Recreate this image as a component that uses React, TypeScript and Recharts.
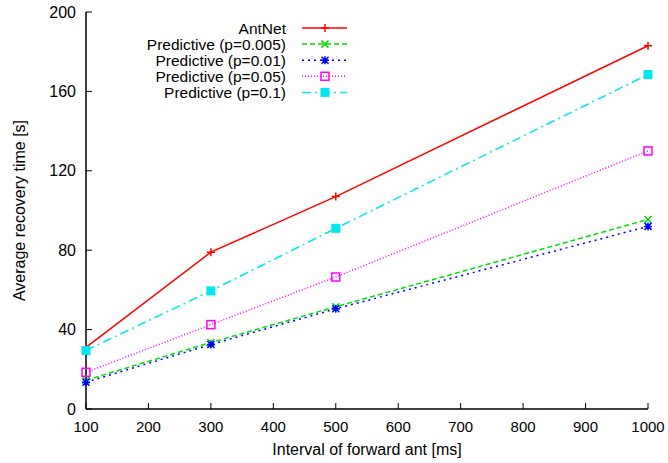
import { Legend, Line, LineChart, XAxis, YAxis } from "recharts";

const intervals = [100, 300, 500, 1000];
const antNet = [31, 79, 107, 183];
const predictive0005 = [14.5, 33.5, 51.5, 95.5];
const predictive001 = [13.5, 32.5, 50.5, 92];
const predictive005 = [18.5, 42.5, 66.5, 130];
const predictive01 = [29.5, 59.5, 91, 168.5];

const xTicks = [100, 200, 300, 400, 500, 600, 700, 800, 900, 1000];
const yTicks = [0, 40, 80, 120, 160, 200];

const FONT = '"Liberation Sans", Arial, sans-serif';

type MarkerKind = "plus" | "cross" | "star" | "box" | "boxFill";

const series: {
  key: string;
  name: string;
  color: string;
  dash?: string;
  marker: MarkerKind;
}[] = [
  { key: "antNet", name: "AntNet", color: "#ff0000", marker: "plus" },
  { key: "p0005", name: "Predictive (p=0.005)", color: "#00dd00", dash: "5 3", marker: "cross" },
  { key: "p001", name: "Predictive (p=0.01)", color: "#0000ff", dash: "2 4", marker: "star" },
  { key: "p005", name: "Predictive (p=0.05)", color: "#ff00ff", dash: "1 2", marker: "box" },
  { key: "p01", name: "Predictive (p=0.1)", color: "#00e8ee", dash: "9 4 2 4", marker: "boxFill" },
];

const data = intervals.map((x, i) => ({
  x,
  antNet: antNet[i],
  p0005: predictive0005[i],
  p001: predictive001[i],
  p005: predictive005[i],
  p01: predictive01[i],
}));

const Marker = ({ kind, cx, cy, color }: { kind: MarkerKind; cx: number; cy: number; color: string }) => {
  const s = 4;
  const d = 3.5;
  if (kind === "plus")
    return (
      <path d={`M${cx - s},${cy}H${cx + s}M${cx},${cy - s}V${cy + s}`} stroke={color} strokeWidth={1.5} fill="none" />
    );
  if (kind === "cross")
    return (
      <path
        d={`M${cx - d},${cy - d}L${cx + d},${cy + d}M${cx - d},${cy + d}L${cx + d},${cy - d}`}
        stroke={color}
        strokeWidth={1.5}
        fill="none"
      />
    );
  if (kind === "star")
    return (
      <path
        d={`M${cx - s},${cy}H${cx + s}M${cx},${cy - s}V${cy + s}M${cx - d},${cy - d}L${cx + d},${cy + d}M${cx - d},${cy + d}L${cx + d},${cy - d}`}
        stroke={color}
        strokeWidth={1.5}
        fill="none"
      />
    );
  if (kind === "box")
    return <rect x={cx - 4} y={cy - 4} width={8} height={8} stroke={color} strokeWidth={1.5} fill="none" />;
  return <rect x={cx - 4.5} y={cy - 4.5} width={9} height={9} fill={color} />;
};

// gnuplot-style ticks: marks point into the plot, labels outside
const BottomTick = (props: any) => {
  const { x, y, payload } = props;
  return (
    <g>
      <line x1={x} x2={x} y1={y - 12} y2={y - 18} stroke="#000" strokeWidth={1} />
      <text x={x} y={y} dy="0.71em" textAnchor="middle" fontSize={15} fontFamily={FONT} fill="#000">
        {payload.value}
      </text>
    </g>
  );
};

const LeftTick = (props: any) => {
  const { x, y, payload } = props;
  return (
    <g>
      <line x1={x + 10} x2={x + 16} y1={y} y2={y} stroke="#000" strokeWidth={1} />
      <text x={x} y={y} dy="0.355em" textAnchor="end" fontSize={16} fontFamily={FONT} fill="#000">
        {payload.value}
      </text>
    </g>
  );
};

const TopTick = (props: any) => {
  const { x, y } = props;
  return <line x1={x} x2={x} y1={y} y2={y + 6} stroke="#000" strokeWidth={1} />;
};

const RightTick = (props: any) => {
  const { x, y } = props;
  return <line x1={x} x2={x - 6} y1={y} y2={y} stroke="#000" strokeWidth={1} />;
};

const LegendBox = () => (
  <svg width={230} height={86} style={{ display: "block" }}>
    {series.map((s, i) => {
      const y = 10 + i * 16.1;
      return (
        <g key={s.key}>
          <text x={156} y={y} dy="0.355em" textAnchor="end" fontSize={15.5} fontFamily={FONT} fill="#000">
            {s.name}
          </text>
          <line x1={172} x2={217} y1={y} y2={y} stroke={s.color} strokeWidth={1.5} strokeDasharray={s.dash} />
          <Marker kind={s.marker} cx={195} cy={y} color={s.color} />
        </g>
      );
    })}
  </svg>
);

export default function App() {
  return (
    <div style={{ position: "absolute", left: 0, top: 0, background: "#fff" }}>
      <LineChart
        width={668}
        height={463}
        data={data}
        margin={{ top: 12, right: 20, bottom: 0, left: 0 }}
        style={{ fontFamily: FONT }}
      >
        <XAxis
          dataKey="x"
          type="number"
          domain={[100, 1000]}
          ticks={xTicks}
          height={54}
          tickSize={0}
          tickMargin={12}
          tickLine={false}
          tick={<BottomTick />}
          axisLine={{ stroke: "#000", strokeWidth: 1.5 }}
          label={{
            content: (p: any) => {
              const vb = p.viewBox;
              return (
                <text
                  x={vb.x + vb.width / 2}
                  y={vb.y + 46}
                  textAnchor="middle"
                  fontSize={16}
                  fontFamily={FONT}
                  fill="#000"
                >
                  Interval of forward ant [ms]
                </text>
              );
            },
          }}
        />
        <XAxis
          xAxisId="top"
          orientation="top"
          dataKey="x"
          type="number"
          domain={[100, 1000]}
          ticks={xTicks}
          height={0}
          tickSize={0}
          tickMargin={0}
          tickLine={false}
          tick={<TopTick />}
          axisLine={{ stroke: "#000", strokeWidth: 1.5 }}
        />
        <YAxis
          type="number"
          domain={[0, 200]}
          ticks={yTicks}
          width={86}
          tickSize={0}
          tickMargin={10}
          tickLine={false}
          tick={<LeftTick />}
          axisLine={{ stroke: "#000", strokeWidth: 1.5 }}
          label={{
            content: (p: any) => {
              const vb = p.viewBox;
              const cx = vb.x + 19.5;
              const cy = vb.y + vb.height / 2;
              return (
                <text
                  x={cx}
                  y={cy}
                  transform={`rotate(-90, ${cx}, ${cy})`}
                  textAnchor="middle"
                  dominantBaseline="central"
                  fontSize={16}
                  fontFamily={FONT}
                  fill="#000"
                >
                  Average recovery time [s]
                </text>
              );
            },
          }}
        />
        <YAxis
          yAxisId="right"
          orientation="right"
          type="number"
          domain={[0, 200]}
          ticks={yTicks}
          width={0}
          tickSize={0}
          tickMargin={0}
          tickLine={false}
          tick={<RightTick />}
          axisLine={{ stroke: "#000", strokeWidth: 1.5 }}
        />
        <Legend
          layout="vertical"
          align="center"
          verticalAlign="middle"
          wrapperStyle={{ left: 130, top: 18, width: 230 }}
          content={() => <LegendBox />}
        />
        {series.map((s) => (
          <Line
            key={s.key}
            dataKey={s.key}
            name={s.name}
            stroke={s.color}
            strokeWidth={1.5}
            strokeDasharray={s.dash}
            isAnimationActive={false}
            dot={(p: any) => (
              <Marker key={`${s.key}-${p.index}`} kind={s.marker} cx={p.cx} cy={p.cy} color={s.color} />
            )}
            activeDot={false}
          />
        ))}
      </LineChart>
    </div>
  );
}
